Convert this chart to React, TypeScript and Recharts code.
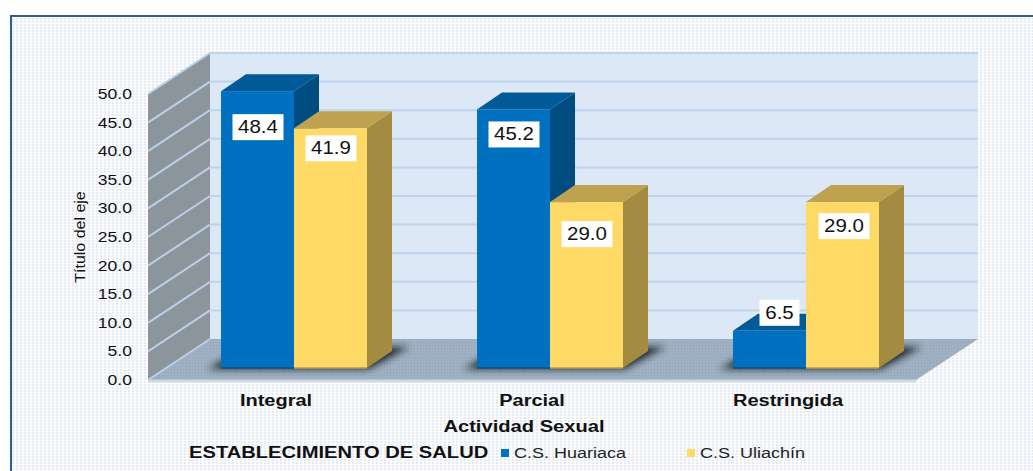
import { BarChart, Bar, XAxis, YAxis, CartesianGrid, Legend, LabelList, Label, usePlotArea } from 'recharts';

const categories = ['Integral', 'Parcial', 'Restringida'];
const huariaca = [48.4, 45.2, 6.5];
const uliachin = [41.9, 29.0, 29.0];
const yTicks = [0, 5, 10, 15, 20, 25, 30, 35, 40, 45, 50];

const data = categories.map((name, i) => ({ name, huariaca: huariaca[i], uliachin: uliachin[i] }));

const FONT = '"Liberation Sans", Arial, sans-serif';
const WIDE = 1.25;

// depth of the box (walls) and of the bars inside it
const BOX_DX = 62;
const BOX_DY = 41;
const BAR_SHIFT_X = 18;
const BAR_SHIFT_Y = 12;
const BAR_DX = 25;
const BAR_DY = 17;

// the label boxes were moved by hand in the original
const huariacaLabelShift = [{ dx: 0.5, dy: 23 }, { dx: 0.5, dy: 12 }, { dx: 10, dy: -31 }];
const uliachinLabelShift = [{ dx: 0.5, dy: 7 }, { dx: 0.5, dy: 19 }, { dx: 1.5, dy: 11 }];

const WideText = ({ x, y, size, bold, anchor = 'start', sx = WIDE, color = '#111', children }: any) => (
  <text
    transform={`translate(${x} ${y}) scale(${sx} 1)`}
    textAnchor={anchor}
    fontFamily={FONT}
    fontSize={size}
    fontWeight={bold ? 700 : 400}
    fill={color}
  >
    {children}
  </text>
);

const Backdrop = () => {
  const plot = usePlotArea();
  if (!plot) return null;
  const left = plot.x;
  const right = plot.x + plot.width;
  const top = plot.y;
  const bottom = plot.y + plot.height;
  return (
    <g>
      <defs>
        <filter id="floorShadow" x="-20%" y="-60%" width="140%" height="220%">
          <feGaussianBlur stdDeviation="3.5" />
        </filter>
        <pattern id="floorDots" width="3" height="3" patternUnits="userSpaceOnUse">
          <rect width="3" height="3" fill="#9eb0c1" />
          <rect width="1" height="1" fill="#91a3b4" />
        </pattern>
      </defs>
      <polygon
        points={`${left + BOX_DX},${top - BOX_DY} ${right + BOX_DX},${top - BOX_DY} ${right + BOX_DX},${bottom - BOX_DY} ${left + BOX_DX},${bottom - BOX_DY}`}
        fill="#dde8f6"
      />
      <polygon
        points={`${left},${top} ${left + BOX_DX},${top - BOX_DY} ${left + BOX_DX},${bottom - BOX_DY} ${left},${bottom}`}
        fill="#8c959c"
      />
      <polygon
        points={`${left},${bottom} ${right},${bottom} ${right + BOX_DX},${bottom - BOX_DY} ${left + BOX_DX},${bottom - BOX_DY}`}
        fill="url(#floorDots)"
      />
      <line x1={left} y1={bottom + 1} x2={right} y2={bottom + 1} stroke="#cfd9e4" strokeWidth={3} />
      <line x1={left + BOX_DX} y1={top - BOX_DY} x2={right + BOX_DX} y2={top - BOX_DY} stroke="#bdd3ea" strokeWidth={2} />
    </g>
  );
};

// one tick of the grid runs along the side wall and then along the back wall
const renderGridLine = ({ x1, x2, y1, index }: any) => (
  <g key={index}>
    <line x1={x1} y1={y1} x2={x1 + BOX_DX} y2={y1 - BOX_DY} stroke="#b9d0e8" strokeWidth={2} />
    {y1 - BOX_DY > 54 && y1 < 379 && (
      <line x1={x1 + BOX_DX} y1={y1 - BOX_DY} x2={x2 + BOX_DX} y2={y1 - BOX_DY} stroke="#bdd3ea" strokeWidth={2} />
    )}
  </g>
);

const renderYTick = ({ x, y, payload }: any) => (
  <WideText x={x - 8} y={y + 5} size={15} sx={1.17} anchor="end">
    {payload.value.toFixed(1)}
  </WideText>
);

const renderXTick = ({ x, y, payload }: any) => (
  <WideText x={x} y={y + 18} size={16} bold anchor="middle">
    {payload.value}
  </WideText>
);

const renderXTitle = ({ viewBox }: any) => (
  <WideText x={viewBox.x + viewBox.width / 2 - 8} y={viewBox.y + 52} size={16} bold sx={1.26} anchor="middle">
    Actividad Sexual
  </WideText>
);

const renderYTitle = ({ viewBox }: any) => (
  <text
    transform={`translate(${viewBox.x - 3} ${viewBox.y + viewBox.height / 2}) scale(0.92 1) rotate(-90)`}
    textAnchor="middle"
    fontFamily={FONT}
    fontSize={16}
    fill="#111"
    x={0}
    y={0}
  >
    Título del eje
  </text>
);

const makeBar = (side: string, lid: string, edge: string, withShadow: boolean) => (props: any) => {
  const { width, height, fill } = props;
  const x = props.x + BAR_SHIFT_X;
  const y = props.y - BAR_SHIFT_Y;
  const base = y + height;
  const right = x + width;
  return (
    <g>
      {withShadow && (
        <polygon
          points={`${x - 13},${base + 1} ${right + width + 2},${base + 1} ${right + width + BAR_DX + 17},${base - 21} ${x + 25},${base - 21}`}
          fill="#141c24"
          opacity={0.9}
          filter="url(#floorShadow)"
        />
      )}
      <polygon
        points={`${right},${y} ${right + BAR_DX},${y - BAR_DY} ${right + BAR_DX},${base - BAR_DY} ${right},${base}`}
        fill={side}
      />
      <polygon
        points={`${x},${y} ${x + BAR_DX},${y - BAR_DY} ${right + BAR_DX},${y - BAR_DY} ${right},${y}`}
        fill={lid}
      />
      <rect x={x} y={y} width={width} height={height} fill={fill} />
      <line x1={x} y1={base} x2={right} y2={base} stroke={edge} strokeWidth={1.5} />
    </g>
  );
};

const BlueBar = makeBar('#004b80', '#005a97', '#0b4f85', true);
const YellowBar = makeBar('#a38b42', '#bfa250', '#b79a4b', false);

const makeLabel = (shifts: { dx: number; dy: number }[]) => (props: any) => {
  const { x, y, width, value, index } = props;
  const text = Number(value).toFixed(1);
  const boxWidth = text.length > 3 ? 51 : 40;
  const center = x + BAR_SHIFT_X + width / 2 + shifts[index].dx;
  const top = y - BAR_SHIFT_Y + shifts[index].dy;
  return (
    <g>
      <rect x={center - boxWidth / 2} y={top} width={boxWidth} height={26} fill="#fff" />
      <WideText x={center} y={top + 19} size={17.5} sx={1.17} anchor="middle">
        {text}
      </WideText>
    </g>
  );
};

const renderLegend = ({ payload }: any) => (
  <svg width={1033} height={30} style={{ display: 'block' }}>
    <WideText x={189} y={22} size={16} bold sx={1.26}>
      ESTABLECIMIENTO DE SALUD
    </WideText>
    {(payload || []).map((item: any, i: number) => (
      <g key={item.value}>
        <rect x={i === 0 ? 501 : 687} y={13} width={8} height={8} fill={item.color} />
        <WideText x={i === 0 ? 514 : 700} y={22} size={15} sx={1.2} color="#222">
          {item.value}
        </WideText>
      </g>
    ))}
  </svg>
);

export default function App() {
  return (
    <div style={{ position: 'absolute', left: 0, top: 0, width: 1033, height: 471, overflow: 'hidden', background: '#fff' }}>
      <div
        style={{
          position: 'absolute',
          left: 10,
          top: 15,
          width: 1023,
          height: 456,
          boxSizing: 'border-box',
          borderLeft: '2px solid #2c5f8e',
          borderTop: '2px solid #2c5f8e',
          backgroundColor: '#fff',
          backgroundImage:
            'repeating-linear-gradient(0deg, rgba(255,255,255,0.85) 0 1px, transparent 1px 3px), repeating-linear-gradient(90deg, #e6eaf2 0 2px, #f9fafc 2px 4px)',
        }}
      />
      <div style={{ position: 'absolute', left: 0, top: 0 }}>
        <BarChart
          width={1033}
          height={471}
          data={data}
          margin={{ top: 94, right: 117, bottom: 31, left: 88 }}
          barSize={73}
          barGap={0}
        >
          <Backdrop />
          <CartesianGrid horizontal={renderGridLine} vertical={false} zIndex={100} />
          <XAxis dataKey="name" height={60} axisLine={false} tickLine={false} tick={renderXTick} interval={0}>
            <Label content={renderXTitle} />
          </XAxis>
          <YAxis
            width={60}
            domain={[0, 50]}
            ticks={yTicks}
            axisLine={false}
            tickLine={false}
            tick={renderYTick}
            interval={0}
          >
            <Label content={renderYTitle} />
          </YAxis>
          <Legend
            verticalAlign="middle"
            layout="horizontal"
            content={renderLegend}
            wrapperStyle={{ position: 'absolute', left: 0, top: 436, width: 1033, height: 30 }}
          />
          <Bar dataKey="huariaca" name="C.S. Huariaca" fill="#0070c0" shape={BlueBar} isAnimationActive={false}>
            <LabelList dataKey="huariaca" content={makeLabel(huariacaLabelShift)} />
          </Bar>
          <Bar dataKey="uliachin" name="C.S. Uliachín" fill="#ffd966" shape={YellowBar} isAnimationActive={false}>
            <LabelList dataKey="uliachin" content={makeLabel(uliachinLabelShift)} />
          </Bar>
        </BarChart>
      </div>
    </div>
  );
}
